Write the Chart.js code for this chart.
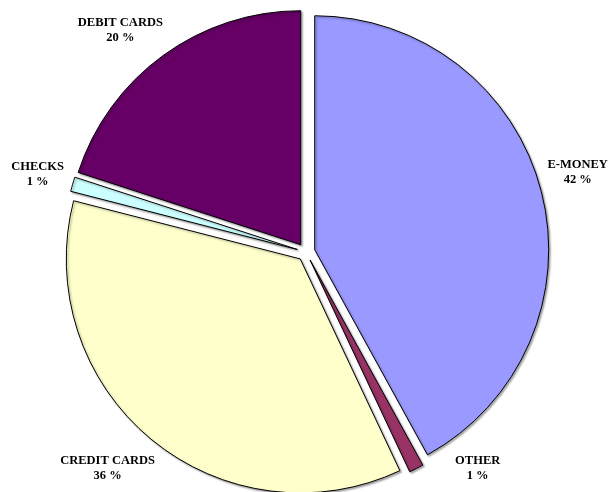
<!DOCTYPE html>
<html>
<head>
<meta charset="utf-8">
<script src="https://cdn.jsdelivr.net/npm/chart.js@4/dist/chart.umd.min.js"></script>
<style>
  html, body { margin: 0; padding: 0; background: #fff; }
  #wrap { width: 608px; height: 492px; }
</style>
</head>
<body>
<div id="wrap"><canvas id="myChart"></canvas></div>
<script>
// data
const categories = ['E-MONEY', 'OTHER', 'CREDIT CARDS', 'CHECKS', 'DEBIT CARDS'];
const shares = [42, 1, 36, 1, 20];
const sliceColors = ['#9999FF', '#993366', '#FFFFCC', '#CCFFFF', '#660066'];

const EXPLODE = 9;   // every slice pulled out by the same amount
const LABEL_GAP = 7;

// chart.js divides arc offset by 4 and also grows small slices,
// so draw the exploded slices ourselves with the arc element's own draw()
const explodedArcs = {
  id: 'explodedArcs',
  beforeDatasetDraw(chart, args) {
    const ctx = chart.ctx;
    args.meta.data.forEach(arc => {
      const p = arc.getProps(['startAngle', 'endAngle'], true);
      const mid = (p.startAngle + p.endAngle) / 2;
      ctx.save();
      ctx.translate(Math.cos(mid) * EXPLODE, Math.sin(mid) * EXPLODE);
      ctx.shadowColor = 'rgba(0,0,0,0.35)';
      ctx.shadowOffsetX = 1.5;
      ctx.shadowOffsetY = 1.5;
      ctx.shadowBlur = 2;
      arc.draw(ctx);
      ctx.restore();
    });
    return false;
  }
};

// labels outside each slice, nearest box edge at a fixed distance from the pie,
// turned a little round the pie when they would leave the canvas
const outsideLabels = {
  id: 'outsideLabels',
  afterDatasetsDraw(chart) {
    const ctx = chart.ctx;
    const meta = chart.getDatasetMeta(0);
    const lineH = 15;
    const W = chart.width, H = chart.height;
    ctx.save();
    ctx.font = 'bold 12.5px "Liberation Serif", "Times New Roman", serif';
    ctx.fillStyle = '#000';
    ctx.textAlign = 'center';
    ctx.textBaseline = 'middle';
    meta.data.forEach((arc, i) => {
      const p = arc.getProps(['x', 'y', 'startAngle', 'endAngle', 'outerRadius'], true);
      const base = (p.startAngle + p.endAngle) / 2;
      const lines = [categories[i], shares[i] + ' %'];
      const w = Math.max(...lines.map(t => ctx.measureText(t).width));
      const h = lines.length * lineH;
      const place = (ang) => {
        const dx = Math.cos(ang), dy = Math.sin(ang);
        const extent = Math.abs(dx) * w / 2 + Math.abs(dy) * h / 2;
        const dist = p.outerRadius + EXPLODE + LABEL_GAP + extent;
        return { cx: p.x + dx * dist, cy: p.y + dy * dist };
      };
      const fits = (b) => b.cx - w / 2 >= 0 && b.cx + w / 2 <= W &&
                          b.cy - h / 2 >= 15 && b.cy + h / 2 <= H - 8;
      let pos = place(base);
      for (let d = 0.5; !fits(pos) && d <= 40; d += 0.5) {
        const a = place(base - d * Math.PI / 180);
        if (fits(a)) { pos = a; break; }
        const b = place(base + d * Math.PI / 180);
        if (fits(b)) { pos = b; break; }
      }
      lines.forEach((t, k) => {
        ctx.fillText(t, pos.cx, pos.cy + (k - (lines.length - 1) / 2) * lineH);
      });
    });
    ctx.restore();
  }
};

const ctx = document.getElementById('myChart').getContext('2d');
new Chart(ctx, {
  type: 'pie',
  data: {
    labels: categories,
    datasets: [{
      data: shares,
      backgroundColor: sliceColors,
      borderColor: '#000',
      borderWidth: 1,
      hoverOffset: 0,
      radius: 234,
      clip: false
    }]
  },
  options: {
    responsive: true,
    maintainAspectRatio: false,
    animation: false,
    layout: { padding: { left: 4, right: 0, top: 12, bottom: 0 } },
    plugins: {
      legend: { display: false },
      tooltip: { enabled: false }
    }
  },
  plugins: [explodedArcs, outsideLabels]
});
</script>
</body>
</html>
